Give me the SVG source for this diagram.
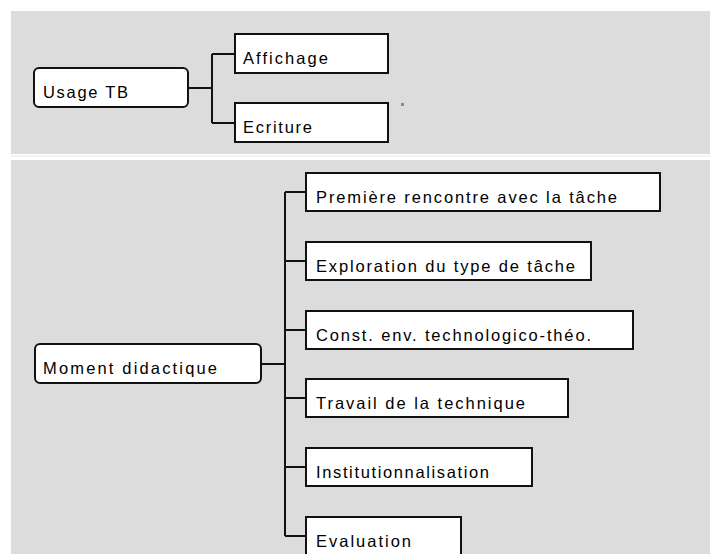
<svg xmlns="http://www.w3.org/2000/svg" width="710" height="554" viewBox="0 0 710 554">
<style>
.panel{fill:#dcdcdc}
.box{fill:#ffffff;stroke:#111111;stroke-width:2}
.conn{fill:none;stroke:#111111;stroke-width:2}
text{font-family:"Liberation Sans",Arial,sans-serif;font-size:16.5px;fill:#000000}
</style>
<rect width="710" height="554" fill="#ffffff"/>
<rect class="panel" x="11" y="11" width="699" height="143"/>
<rect x="11" y="155" width="699" height="2" fill="#f2f2f2"/>
<rect class="panel" x="11" y="160" width="699" height="394"/>
<rect x="401" y="103" width="3" height="3" fill="#6a8ad0"/>
<g id="connectors">
<path class="conn" d="M188 88H212M212 54V123M212 54H235M212 123H235"/>
<path class="conn" d="M261 364H285M285 192V536M285 192H306M285 261H306M285 330H306M285 398H306M285 467H306M285 536H306"/>
</g>
<g id="usage-tb"><rect class="box" x="34" y="68" width="154" height="39" rx="5"/><text x="43" y="98" textLength="85" lengthAdjust="spacing">Usage TB</text></g>
<g id="affichage"><rect class="box" x="235" y="34" width="153" height="39"/><text x="243" y="64" textLength="85" lengthAdjust="spacing">Affichage</text></g>
<g id="ecriture"><rect class="box" x="235" y="103" width="153" height="39"/><text x="243" y="133" textLength="69" lengthAdjust="spacing">Ecriture</text></g>
<g id="moment-didactique"><rect class="box" x="35" y="344" width="226" height="39" rx="5"/><text x="43" y="374" textLength="174" lengthAdjust="spacing">Moment didactique</text></g>
<g id="premiere"><rect class="box" x="306" y="173" width="354" height="38"/><text x="316" y="203" textLength="301" lengthAdjust="spacing">Première rencontre avec la tâche</text></g>
<g id="exploration"><rect class="box" x="306" y="242" width="285" height="38"/><text x="316" y="272" textLength="259" lengthAdjust="spacing">Exploration du type de tâche</text></g>
<g id="const"><rect class="box" x="306" y="311" width="327" height="38"/><text x="316" y="341" textLength="275" lengthAdjust="spacing">Const. env. technologico-théo.</text></g>
<g id="travail"><rect class="box" x="306" y="379" width="262" height="38"/><text x="316" y="409" textLength="209" lengthAdjust="spacing">Travail de la technique</text></g>
<g id="institutionnalisation"><rect class="box" x="306" y="448" width="226" height="38"/><text x="316" y="478" textLength="173" lengthAdjust="spacing">Institutionnalisation</text></g>
<g id="evaluation"><rect class="box" x="306" y="517" width="155" height="38"/><text x="316" y="547" textLength="95" lengthAdjust="spacing">Evaluation</text></g>
</svg>
